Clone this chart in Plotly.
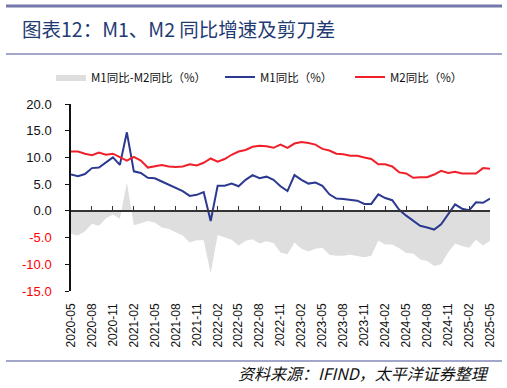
import plotly.graph_objects as go

months = []
for y in range(2020, 2026):
    for m in range(1, 13):
        if (y == 2020 and m < 5) or (y == 2025 and m > 5):
            continue
        months.append(f"{y}-{m:02d}")

m1 = [6.8, 6.5, 6.9, 8.0, 8.1, 9.1, 10.0, 8.6,
      14.7, 7.4, 7.1, 6.2, 6.1, 5.5, 4.9, 4.2, 3.7, 2.8, 3.0, 3.5,
      -1.9, 4.7, 4.7, 5.1, 4.6, 5.8, 6.7, 6.1, 6.4, 5.8, 4.6, 3.7,
      6.7, 5.8, 5.1, 5.3, 4.7, 3.1, 2.3, 2.2, 2.1, 1.9, 1.3, 1.3,
      3.1, 2.4, 2.0, 0.2, -0.9, -1.8, -2.8, -3.1, -3.5, -2.5, -0.7, 1.2,
      0.4, 0.1, 1.6, 1.5, 2.3]
m2 = [11.1, 11.1, 10.7, 10.4, 10.9, 10.5, 10.7, 10.1,
      9.4, 10.1, 9.4, 8.1, 8.3, 8.6, 8.3, 8.2, 8.3, 8.7, 8.5, 9.0,
      9.8, 9.2, 9.7, 10.5, 11.1, 11.4, 12.0, 12.2, 12.1, 11.8, 12.4, 11.8,
      12.6, 12.9, 12.7, 12.4, 11.6, 11.3, 10.7, 10.6, 10.3, 10.3, 10.0, 9.7,
      8.7, 8.7, 8.3, 7.2, 7.0, 6.2, 6.3, 6.3, 6.8, 7.5, 7.1, 7.3,
      7.0, 7.0, 7.0, 8.0, 7.9]
spread = [round(a - b, 2) for a, b in zip(m1, m2)]

y_ticks = [-15, -10, -5, 0, 5, 10, 15, 20]
x_idx = list(range(len(months)))
tick_idx = x_idx[::3]
tick_lab = [months[i] for i in tick_idx]

W, H = 507, 388
L, R, T, B = 71, 17, 104, 97
PW, PH = W - L - R, H - T - B


def xp(px):
    return (px - L) / PW


def yp(py):
    return (H - B - py) / PH


FONT = "Noto Sans CJK SC, Liberation Sans, sans-serif"

fig = go.Figure()
fig.add_trace(go.Scatter(x=x_idx, y=spread, name="M1同比-M2同比（%）", mode="lines",
                         line=dict(width=0, color="#DEDEDE"), fill="tozeroy",
                         fillcolor="#DEDEDE", xaxis="x", yaxis="y", legend="legend"))
fig.add_trace(go.Scatter(x=x_idx, y=m1, name="M1同比（%）", mode="lines",
                         line=dict(width=2, color="#2B3990"), xaxis="x2", yaxis="y",
                         legend="legend2"))
fig.add_trace(go.Scatter(x=x_idx, y=m2, name="M2同比（%）", mode="lines",
                         line=dict(width=2, color="#F0202A"), xaxis="x2", yaxis="y",
                         legend="legend3"))

ytext = []
for v in y_ticks:
    s = f"{v:.1f}"
    if v < 0:
        s = f"<span style='color:#FF0000'>{s}</span>"
    ytext.append(s)

leg_common = dict(orientation="h", xref="container", yref="container",
                  yanchor="middle", xanchor="left", bgcolor="rgba(0,0,0,0)",
                  font=dict(family=FONT, size=11.5, color="#111111"),
                  itemwidth=30)

fig.update_layout(
    width=W, height=H,
    margin=dict(l=L, r=R, t=T, b=B, autoexpand=False),
    paper_bgcolor="white", plot_bgcolor="white",
    showlegend=True,
    legend=dict(x=51 / W, y=1 - 77 / H, **leg_common),
    legend2=dict(x=220 / W, y=1 - 77 / H, **leg_common),
    legend3=dict(x=350 / W, y=1 - 77 / H, **leg_common),
    xaxis=dict(range=[0, 60], tickvals=tick_idx, ticktext=tick_lab, tickangle=-90,
               showline=False, showgrid=False, zeroline=False, ticks="",
               ticklabelstandoff=9, automargin=False,
               tickfont=dict(family="Liberation Sans, Arial", size=12, color="#111111")),
    xaxis2=dict(range=[0, 60], overlaying="x", anchor="free", position=15 / 35,
                side="bottom", showline=True, linecolor="#333333", linewidth=1.5,
                ticks="inside", ticklen=4, tickwidth=1.2, tickcolor="#333333",
                tickvals=tick_idx, showticklabels=False, showgrid=False, zeroline=False,
                automargin=False),
    yaxis=dict(range=[-15, 20], tickvals=y_ticks, ticktext=ytext, showline=True,
               linecolor="#111111", linewidth=1.5, ticks="outside", ticklen=4,
               tickcolor="#111111", showgrid=False, zeroline=False,
               ticklabelstandoff=11, automargin=False,
               tickfont=dict(family="Liberation Sans, Arial", size=13, color="#111111")),
    shapes=[
        dict(type="line", xref="paper", yref="paper", x0=xp(6), x1=xp(502),
             y0=yp(6), y1=yp(6), line=dict(color="#7478AD", width=3)),
        dict(type="line", xref="paper", yref="paper", x0=xp(6), x1=xp(502),
             y0=yp(54), y1=yp(54), line=dict(color="#8589BA", width=1.5)),
        dict(type="line", xref="paper", yref="paper", x0=xp(6), x1=xp(502),
             y0=yp(361), y1=yp(361), line=dict(color="#8589BA", width=1.5)),
    ],
    annotations=[
        dict(text="图表12：M1、M2 同比增速及剪刀差", xref="paper", yref="paper",
             x=xp(20), y=yp(29), xanchor="left", yanchor="middle", showarrow=False,
             font=dict(family=FONT, size=19.5, color="#1F3B73")),
        dict(text="<i>资料来源：IFIND，太平洋证券整理</i>", xref="paper", yref="paper",
             x=xp(491), y=yp(373), xanchor="right", yanchor="middle", showarrow=False,
             font=dict(family=FONT, size=16, color="#111111")),
    ],
)

fig.write_html("out.html", config={"displayModeBar": False},
               post_script="document.body.style.margin='0';document.body.style.overflow='hidden';")
